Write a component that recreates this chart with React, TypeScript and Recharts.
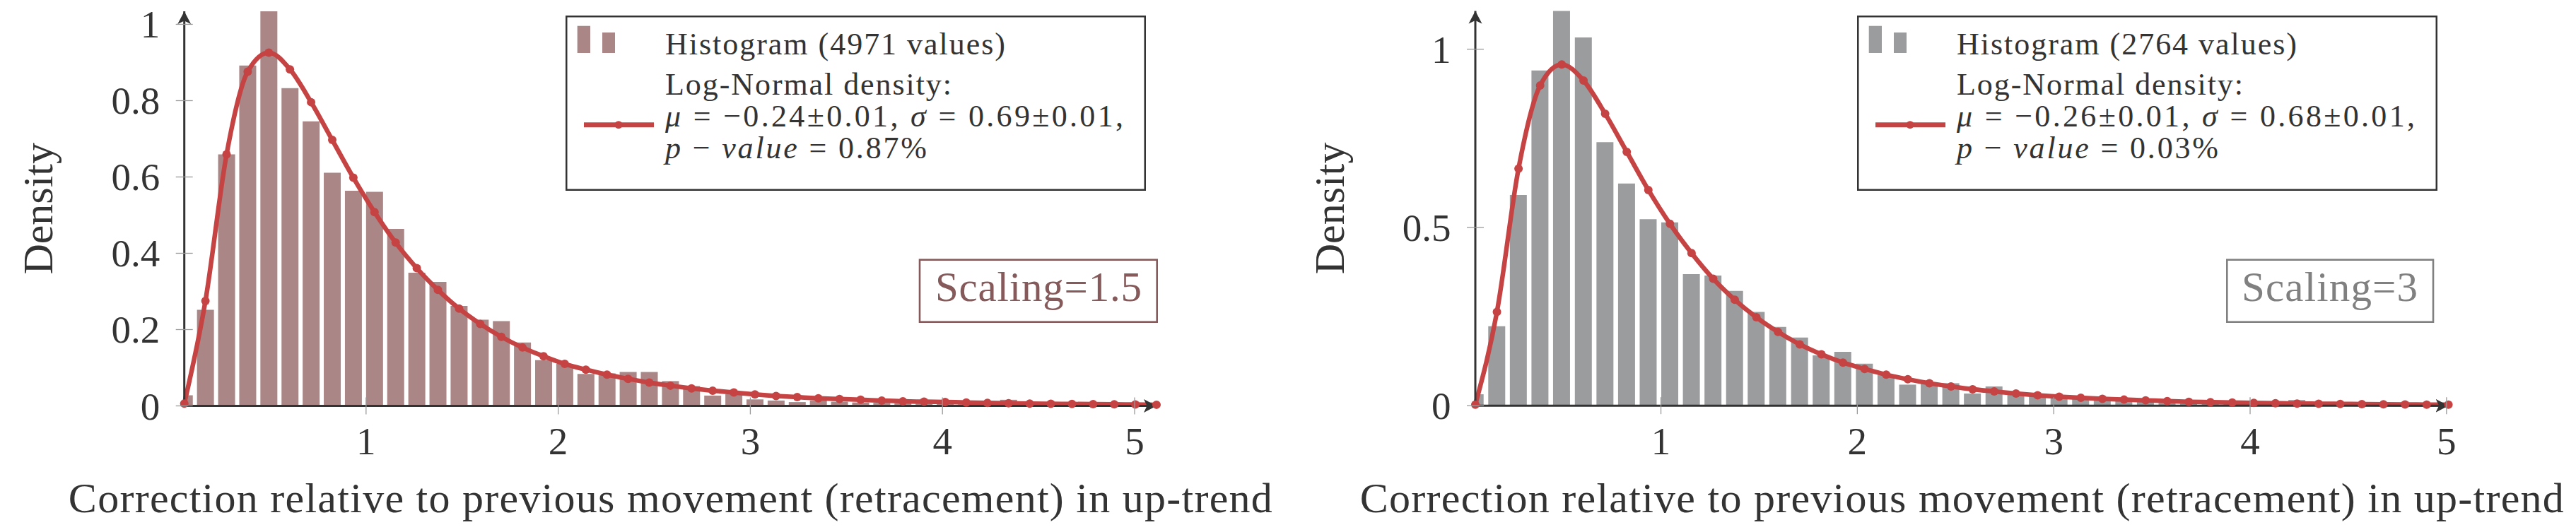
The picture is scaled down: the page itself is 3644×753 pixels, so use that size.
import React from "react";
import { ComposedChart, Bar, Line, XAxis, YAxis, Legend, Customized } from "recharts";

// bin centres and densities
const LEFT_X = [
  0.054, 0.164, 0.274, 0.384, 0.494, 0.604, 0.714, 0.824, 0.934, 1.044, 1.154, 1.264,
  1.374, 1.484, 1.594, 1.704, 1.814, 1.924, 2.034, 2.144, 2.254, 2.364, 2.474, 2.584,
  2.694, 2.804, 2.914, 3.024, 3.134, 3.244, 3.354, 3.464, 3.574, 3.684, 3.794, 3.904,
  4.014, 4.124, 4.234, 4.344, 4.454, 4.564, 4.674, 4.784, 4.894, 5.004, 5.114,
];
const LEFT_HIST = [
  0.028, 0.252, 0.659, 0.892, 1.034, 0.833, 0.746, 0.611, 0.564, 0.561, 0.464, 0.349,
  0.325, 0.262, 0.226, 0.222, 0.166, 0.12, 0.11, 0.084, 0.085, 0.089, 0.089, 0.065,
  0.052, 0.027, 0.031, 0.017, 0.014, 0.01, 0.014, 0.011, 0.009, 0.008, 0.007, 0.006,
  0.005, 0.004, 0.004, 0.016, 0.003, 0.002, 0.002, 0.001, 0.001, 0.001, 0.001,
];
const LEFT_DENSITY = [
  0.006, 0.275, 0.659, 0.876, 0.926, 0.882, 0.796, 0.697, 0.598, 0.508, 0.428, 0.361,
  0.304, 0.255, 0.215, 0.181, 0.153, 0.13, 0.11, 0.095, 0.082, 0.071, 0.061, 0.053,
  0.046, 0.04, 0.035, 0.03, 0.026, 0.023, 0.02, 0.018, 0.016, 0.014, 0.012, 0.011,
  0.01, 0.009, 0.008, 0.007, 0.006, 0.0055, 0.005, 0.0045, 0.004, 0.0035, 0.003,
];

const RIGHT_X = [
  0.055, 0.165, 0.275, 0.385, 0.495, 0.606, 0.716, 0.826, 0.936, 1.046, 1.156, 1.266,
  1.376, 1.486, 1.596, 1.707, 1.817, 1.927, 2.037, 2.147, 2.257, 2.367, 2.477, 2.587,
  2.697, 2.808, 2.918, 3.028, 3.138, 3.248, 3.358, 3.468, 3.578, 3.688, 3.798, 3.909,
  4.019, 4.129, 4.239, 4.349, 4.459, 4.569, 4.679, 4.789, 4.899, 5.01,
];
const RIGHT_HIST = [
  0.032, 0.223, 0.591, 0.94, 1.107, 1.033, 0.739, 0.623, 0.523, 0.514, 0.369, 0.365,
  0.322, 0.263, 0.221, 0.191, 0.141, 0.151, 0.118, 0.087, 0.059, 0.063, 0.063, 0.034,
  0.054, 0.034, 0.028, 0.024, 0.019, 0.015, 0.022, 0.018, 0.013, 0.01, 0.008, 0.005,
  0.004, 0.003, 0.016, 0.003, 0.002, 0.002, 0.001, 0.001, 0.001, 0.001,
];
const RIGHT_DENSITY = [
  0.003, 0.263, 0.665, 0.898, 0.957, 0.912, 0.819, 0.712, 0.605, 0.51, 0.428, 0.356,
  0.297, 0.248, 0.207, 0.172, 0.144, 0.121, 0.103, 0.087, 0.074, 0.063, 0.054, 0.046,
  0.04, 0.034, 0.029, 0.025, 0.022, 0.019, 0.017, 0.015, 0.013, 0.011, 0.01, 0.009,
  0.008, 0.007, 0.006, 0.0055, 0.005, 0.0045, 0.004, 0.0035, 0.003, 0.003,
];

const X_TICKS = [1, 2, 3, 4, 5];
const LEFT_Y_TICKS = [0, 0.2, 0.4, 0.6, 0.8, 1];
const RIGHT_Y_TICKS = [0, 0.5, 1];

const FONT = '"Liberation Serif", "Times New Roman", serif';
const INK = "#333333";
const RED = "#c64343";
const X_TITLE = "Correction relative to previous movement (retracement) in up-trend";

function XTick({ x, y, payload }: any) {
  return (
    <g>
      <line x1={x} x2={x} y1={y - 12} y2={y + 12} stroke="#9a9a9a" strokeWidth={1.3} />
      <text x={x} y={y + 68.5} textAnchor="middle" fontSize={55} fontFamily={FONT} fill={INK}>
        {payload.value}
      </text>
    </g>
  );
}

function YTick({ x, y, payload }: any) {
  const ax = x + 34.5;
  return (
    <g>
      <line x1={ax - 12} x2={ax + 12} y1={y} y2={y} stroke="#9a9a9a" strokeWidth={1.3} />
      <text x={x} y={y + 19} textAnchor="end" fontSize={55} fontFamily={FONT} fill={INK}>
        {payload.value}
      </text>
    </g>
  );
}

function XTitle({ viewBox }: any) {
  return (
    <text
      x={viewBox.x + viewBox.width / 2}
      y={viewBox.y + 150.6}
      textAnchor="middle"
      fontSize={60}
      textLength={1703}
      fontFamily={FONT}
      fill={INK}
    >
      {X_TITLE}
    </text>
  );
}

function YTitle({ viewBox }: any) {
  const cx = viewBox.x + viewBox.width - 186.3;
  const cy = viewBox.y + viewBox.height / 2;
  return (
    <text
      x={cx}
      y={cy}
      transform={`rotate(-90 ${cx} ${cy})`}
      textAnchor="middle"
      fontSize={60}
      fontFamily={FONT}
      fill={INK}
    >
      Density
    </text>
  );
}

function LegendBox({ barColor, count, mu, sigma, pValue }: any) {
  const txt = { fontSize: 44, fontFamily: FONT, fill: INK };
  return (
    <svg width={821} height={248} style={{ display: "block" }}>
      <rect x={1.25} y={1.25} width={818.5} height={245.5} fill="#fff" stroke={INK} strokeWidth={2.5} />
      <rect x={16.7} y={14.7} width={18.3} height={38.3} fill={barColor} />
      <rect x={52} y={24} width={18} height={29} fill={barColor} />
      <line x1={26} x2={125} y1={154.7} y2={154.7} stroke={RED} strokeWidth={7} />
      <circle cx={75} cy={154.7} r={5.5} fill={RED} />
      <text x={141} y={54.7} textLength={481} {...txt}>
        {`Histogram (${count} values)`}
      </text>
      <text x={141} y={112.3} textLength={405} {...txt}>
        Log-Normal density:
      </text>
      <text x={141} y={157} textLength={648} {...txt}>
        <tspan fontStyle="italic">μ</tspan>
        {` = \u2212${mu}\u00b10.01, `}
        <tspan fontStyle="italic">σ</tspan>
        {` = ${sigma}\u00b10.01,`}
      </text>
      <text x={141} y={201.5} textLength={370} {...txt}>
        <tspan fontStyle="italic">p</tspan>
        {" \u2212 "}
        <tspan fontStyle="italic">value</tspan>
        {` = ${pValue}%`}
      </text>
    </svg>
  );
}

function ScalingBox({ box, textX, textLength, label, color }: any) {
  return (
    <g>
      <rect x={box[0]} y={box[1]} width={box[2]} height={box[3]} fill="none" stroke={color} strokeWidth={2.6} />
      <text x={textX} y={425.7} fontSize={59} textLength={textLength} fontFamily={FONT} fill={color}>
        {label}
      </text>
    </g>
  );
}

function Panel(props: any) {
  const { xs, hist, density, xDomain, yDomain, yTicks, barColor, margin, width, left } = props;
  const data = xs.map((x: number, i: number) => ({ x, hist: hist[i], density: density[i] }));

  return (
    <div style={{ position: "absolute", left, top: 0 }}>
      <ComposedChart width={width} height={753} data={data} margin={margin}>
        <XAxis
          xAxisId="bins"
          dataKey="x"
          type="number"
          domain={xDomain}
          allowDataOverflow
          ticks={X_TICKS}
          interval={0}
          height={100}
          tickSize={0}
          tickMargin={0}
          tickLine={false}
          tick={<XTick />}
          axisLine={{ stroke: INK, strokeWidth: 3, markerEnd: "url(#axisArrow)" }}
          label={<XTitle />}
        />
        <XAxis xAxisId="curve" dataKey="x" type="number" domain={xDomain} hide />
        <YAxis
          type="number"
          domain={yDomain}
          ticks={yTicks}
          interval={0}
          width={100}
          tickSize={0}
          tickMargin={34.5}
          tickLine={false}
          tick={<YTick />}
          axisLine={{ stroke: INK, strokeWidth: 3, markerStart: "url(#axisArrow)" }}
          label={<YTitle />}
        />
        <Bar xAxisId="bins" dataKey="hist" fill={barColor} barSize={24} isAnimationActive={false} />
        <Line
          xAxisId="curve"
          dataKey="density"
          type="monotone"
          stroke={RED}
          strokeWidth={6.5}
          dot={{ r: 6, fill: RED, stroke: RED, strokeWidth: 0 }}
          activeDot={false}
          isAnimationActive={false}
        />
        <Legend
          layout="vertical"
          align="center"
          verticalAlign="middle"
          wrapperStyle={{ left: props.legendLeft, top: 22, width: 821, height: 248 }}
          content={() => (
            <LegendBox
              barColor={barColor}
              count={props.count}
              mu={props.mu}
              sigma={props.sigma}
              pValue={props.pValue}
            />
          )}
        />
        <Customized
          component={
            <ScalingBox
              box={props.scalingBox}
              textX={props.scalingTextX}
              textLength={props.scalingLength}
              label={props.scaling}
              color={props.scalingColor}
            />
          }
        />
      </ComposedChart>
    </div>
  );
}

export default function App() {
  return (
    <div style={{ position: "absolute", left: 0, top: 0, width: 3644, height: 753, background: "#fff" }}>
      <svg width={0} height={0} style={{ position: "absolute" }}>
        <defs>
          <marker
            id="axisArrow"
            viewBox="0 0 20 20"
            refX={18}
            refY={10}
            markerWidth={20}
            markerHeight={20}
            markerUnits="userSpaceOnUse"
            orient="auto-start-reverse"
          >
            <path d="M18,10 L0,0.5 L4.5,10 L0,19.5 Z" fill={INK} />
          </marker>
        </defs>
      </svg>
      <Panel
        left={0}
        width={1800}
        margin={{ top: 16.1, right: 164, bottom: 78.5, left: 160.7 }}
        xs={LEFT_X}
        hist={LEFT_HIST}
        density={LEFT_DENSITY}
        xDomain={[0.054, 5.114]}
        yDomain={[0, 1.034]}
        yTicks={LEFT_Y_TICKS}
        barColor="#aa8686"
        legendLeft={800}
        count={4971}
        mu="0.24"
        sigma="0.69"
        pValue="0.87"
        scaling="Scaling=1.5"
        scalingColor="#865a5a"
        scalingBox={[1301, 367.7, 335.7, 88]}
        scalingTextX={1323}
        scalingLength={292}
      />
      <Panel
        left={1800}
        width={1844}
        margin={{ top: 15.6, right: 180.4, bottom: 78.8, left: 187 }}
        xs={RIGHT_X}
        hist={RIGHT_HIST}
        density={RIGHT_DENSITY}
        xDomain={[0.055, 5.01]}
        yDomain={[0, 1.107]}
        yTicks={RIGHT_Y_TICKS}
        barColor="#9b9c9e"
        legendLeft={826.5}
        count={2764}
        mu="0.26"
        sigma="0.68"
        pValue="0.03"
        scaling="Scaling=3"
        scalingColor="#808080"
        scalingBox={[1350.3, 367.7, 291.7, 88]}
        scalingTextX={1371}
        scalingLength={249}
      />
    </div>
  );
}
